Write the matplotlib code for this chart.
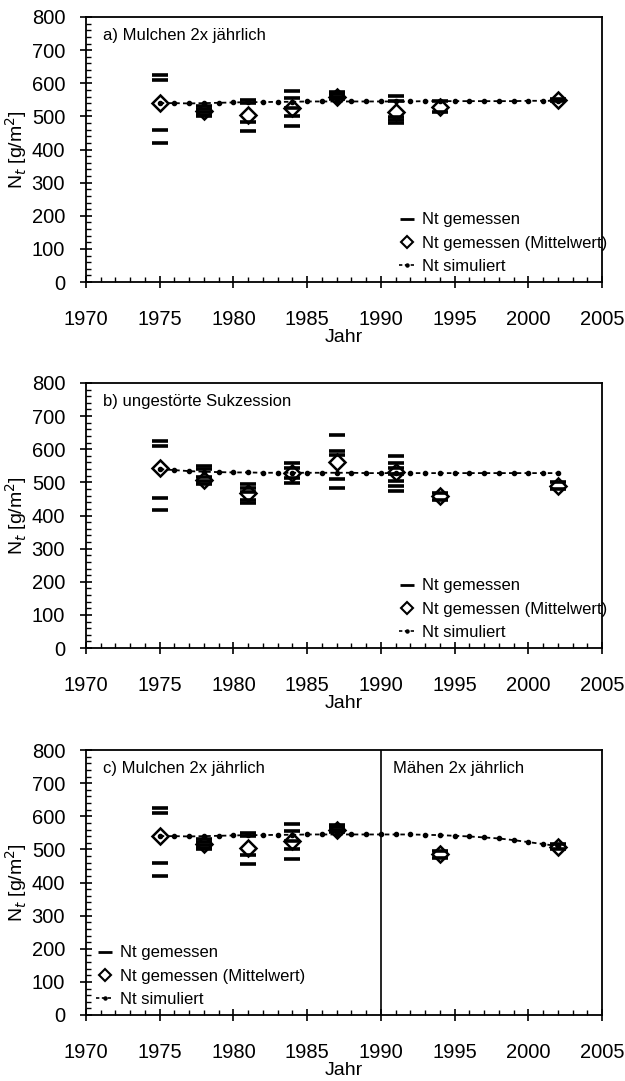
import matplotlib
matplotlib.use('Agg')
import matplotlib.pyplot as plt
from matplotlib.lines import Line2D
from matplotlib.ticker import MultipleLocator

plt.rcParams['font.family'] = ['Liberation Sans', 'DejaVu Sans']

# ---------------- data ----------------
# Panel a) Mulchen 2x jährlich
meas_a_year = [1975, 1975, 1975, 1975,
               1978, 1978, 1978, 1978, 1978,
               1981, 1981, 1981, 1981,
               1984, 1984, 1984, 1984, 1984,
               1987, 1987, 1987, 1987,
               1991, 1991, 1991, 1991, 1991,
               1994, 1994,
               2002, 2002]
meas_a_val = [624, 610, 458, 420,
              532, 522, 512, 505, 500,
              548, 540, 484, 456,
              576, 556, 526, 501, 471,
              575, 568, 560, 553,
              561, 546, 498, 488, 480,
              545, 512,
              552, 545]
mean_a_year = [1975, 1978, 1981, 1984, 1987, 1991, 1994, 2002]
mean_a_val = [541, 515, 505, 526, 560, 512, 527, 548]
sim_a_year = list(range(1975, 2003))
sim_a_val = [540, 540, 539, 540, 541, 542, 543, 543, 544, 544, 545, 545, 545, 545,
             545, 545, 545, 545, 546, 546, 546, 546, 546, 546, 546, 547, 547, 547]

# Panel b) ungestörte Sukzession
meas_b_year = [1975, 1975, 1975, 1975,
               1978, 1978, 1978, 1978, 1978,
               1981, 1981, 1981, 1981, 1981,
               1984, 1984, 1984, 1984,
               1987, 1987, 1987, 1987, 1987,
               1991, 1991, 1991, 1991, 1991, 1991, 1991,
               1994, 1994,
               2002, 2002]
meas_b_val = [624, 609, 454, 416,
              549, 539, 515, 505, 495,
              496, 484, 470, 447, 437,
              559, 544, 514, 499,
              644, 594, 584, 509, 484,
              579, 559, 544, 524, 504, 489, 474,
              468, 448,
              500, 480]
mean_b_year = [1975, 1978, 1981, 1984, 1987, 1991, 1994, 2002]
mean_b_val = [544, 508, 468, 529, 560, 532, 458, 490]
sim_b_year = list(range(1975, 2003))
sim_b_val = [540, 537, 534, 532, 531, 530, 530, 529, 529, 529, 529, 529, 529, 529,
             528, 528, 528, 528, 528, 528, 528, 528, 528, 528, 528, 528, 528, 528]

# Panel c) Mulchen 2x jährlich / Mähen 2x jährlich
meas_c_year = [1975, 1975, 1975, 1975,
               1978, 1978, 1978, 1978, 1978,
               1981, 1981, 1981, 1981,
               1984, 1984, 1984, 1984, 1984,
               1987, 1987, 1987, 1987,
               1994, 1994,
               2002, 2002]
meas_c_val = [624, 610, 458, 420,
              532, 522, 512, 505, 500,
              548, 540, 484, 456,
              576, 556, 526, 501, 471,
              575, 568, 560, 553,
              496, 474,
              515, 500]
mean_c_year = [1975, 1978, 1981, 1984, 1987, 1994, 2002]
mean_c_val = [541, 515, 505, 526, 560, 485, 507]
sim_c_year = list(range(1975, 2003))
sim_c_val = [540, 540, 539, 540, 541, 542, 543, 543, 544, 544, 545, 545, 545, 545,
             545, 545, 545, 545, 544, 543, 541, 539, 536, 533, 528, 522, 516, 510]

panel_titles = ["a) Mulchen 2x jährlich", "b) ungestörte Sukzession", "c) Mulchen 2x jährlich"]
second_title = "Mähen 2x jährlich"
legend_labels = ["Nt gemessen", "Nt gemessen (Mittelwert)", "Nt simuliert"]
x_ticks = [1970, 1975, 1980, 1985, 1990, 1995, 2000, 2005]
y_ticks = [0, 100, 200, 300, 400, 500, 600, 700, 800]

# ---------------- figure ----------------
W, H = 625, 1081
fig = plt.figure(figsize=(W / 100, H / 100), dpi=100)

panels = [
    (17, meas_a_year, meas_a_val, mean_a_year, mean_a_val, sim_a_year, sim_a_val),
    (383, meas_b_year, meas_b_val, mean_b_year, mean_b_val, sim_b_year, sim_b_val),
    (750, meas_c_year, meas_c_val, mean_c_year, mean_c_val, sim_c_year, sim_c_val),
]

handles = [
    Line2D([], [], ls='none', marker='_', ms=10, mew=2.0, color='black'),
    Line2D([], [], ls='none', marker='D', ms=6.5, mfc='none', mec='black', mew=1.5),
    Line2D([], [], color='black', lw=1.2, ls=(0, (2, 1.5)), marker='o', ms=2.2),
]

for i, (top, my, mv, ay, av, sy, sv) in enumerate(panels):
    ax = fig.add_axes([86 / W, 1 - (top + 265) / H, 516 / W, 265 / H])
    ax.plot(sy, sv, color='black', lw=1.3, ls=(0, (2.5, 1.8)), marker='o', ms=3, zorder=2)
    ax.plot(my, mv, ls='none', marker='_', ms=12, mew=2.6, color='black', zorder=3)
    ax.plot(ay, av, ls='none', marker='D', ms=8.5, mfc='none', mec='black', mew=1.8, zorder=4)

    ax.set_xlim(1970, 2005)
    ax.set_ylim(0, 800)
    ax.set_xticks(x_ticks)
    ax.set_yticks(y_ticks)
    ax.xaxis.set_minor_locator(MultipleLocator(1))
    ax.yaxis.set_minor_locator(MultipleLocator(20))
    ax.tick_params(which='major', direction='inout', length=8, width=1.2,
                   labelsize=14.5, top=False, right=False)
    ax.tick_params(which='minor', direction='in', length=3.5, width=1.0,
                   top=False, right=False)
    ax.tick_params(axis='x', which='major', pad=16)
    ax.tick_params(axis='y', which='major', pad=11)
    for s in ax.spines.values():
        s.set_linewidth(1.3)
    ax.set_xlabel('Jahr', fontsize=14, labelpad=0)
    ax.set_ylabel('N$_t$ [g/m$^2$]', fontsize=14, labelpad=2)

    ax.text(0.033, 0.93, panel_titles[i], transform=ax.transAxes,
            fontsize=12, va='center', ha='left')

    if i < 2:
        ax.legend(handles, legend_labels, loc='lower right', bbox_to_anchor=(1.01, 0.03),
                  frameon=False, fontsize=12, handlelength=1.0, handletextpad=0.4,
                  labelspacing=0.5, borderaxespad=0.0, borderpad=0.0)
    else:
        ax.axvline(1990, color='black', lw=1.2)
        ax.text(1990.8, 800 * 0.93, second_title, fontsize=12, va='center', ha='left')
        ax.legend(handles, legend_labels, loc='lower left', bbox_to_anchor=(0.02, 0.03),
                  frameon=False, fontsize=12, handlelength=1.0, handletextpad=0.4,
                  labelspacing=0.5, borderaxespad=0.0, borderpad=0.0)

fig.savefig('out.png', dpi=100)
